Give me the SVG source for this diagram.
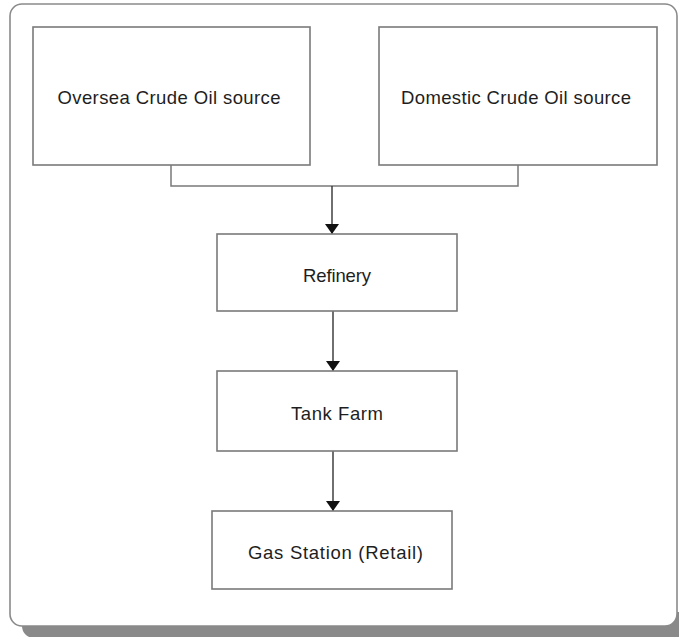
<svg xmlns="http://www.w3.org/2000/svg" width="679" height="637" viewBox="0 0 679 637">
  <style>
    .box { fill: #ffffff; stroke: #7a7a7a; stroke-width: 1.6; }
    .lbl { font-family: "Liberation Sans", Arial, sans-serif; font-size: 18.5px; fill: #1e1e1e; text-anchor: middle; }
    .wire { fill: none; stroke: #7a7a7a; stroke-width: 1.5; }
    .flow { fill: none; stroke: #333333; stroke-width: 1.4; }
  </style>
  <defs>
    <marker id="arrow" viewBox="0 0 10 14" refX="10" refY="7" markerWidth="10" markerHeight="14" markerUnits="userSpaceOnUse" orient="auto-start-reverse">
      <path d="M0,0 L10,7 L0,14 Z" fill="#111111"/>
    </marker>
    <clipPath id="shadow-clip">
      <rect x="0" y="612" width="679" height="25"/>
    </clipPath>
  </defs>

  <rect width="679" height="637" fill="#ffffff"/>

  <!-- frame with drop shadow along the bottom -->
  <g id="frame">
    <rect x="22" y="16" width="667" height="622" rx="12" fill="#8a8a8a" clip-path="url(#shadow-clip)"/>
    <rect x="10" y="4" width="667" height="622" rx="12" fill="#ffffff" stroke="#8a8a8a" stroke-width="1.6"/>
  </g>

  <g id="connectors">
    <path class="wire" d="M171,165 V186 H518 V165"/>
    <path class="flow" d="M332,186 V234" marker-end="url(#arrow)"/>
    <path class="flow" d="M333,311 V371" marker-end="url(#arrow)"/>
    <path class="flow" d="M333,451 V511" marker-end="url(#arrow)"/>
  </g>

  <g id="oversea">
    <rect class="box" x="33" y="27" width="277" height="138"/>
    <text class="lbl" x="169" y="104" textLength="223" lengthAdjust="spacing">Oversea Crude Oil source</text>
  </g>

  <g id="domestic">
    <rect class="box" x="379" y="27" width="278" height="138"/>
    <text class="lbl" x="516" y="104" textLength="230" lengthAdjust="spacing">Domestic Crude Oil source</text>
  </g>

  <g id="refinery">
    <rect class="box" x="217" y="234" width="240" height="77"/>
    <text class="lbl" x="337" y="282" textLength="68" lengthAdjust="spacing">Refinery</text>
  </g>

  <g id="tank-farm">
    <rect class="box" x="217" y="371" width="240" height="80"/>
    <text class="lbl" x="337" y="420" textLength="92" lengthAdjust="spacing">Tank Farm</text>
  </g>

  <g id="gas-station">
    <rect class="box" x="212" y="511" width="240" height="78"/>
    <text class="lbl" x="335.5" y="559" textLength="175" lengthAdjust="spacing">Gas Station (Retail)</text>
  </g>
</svg>
